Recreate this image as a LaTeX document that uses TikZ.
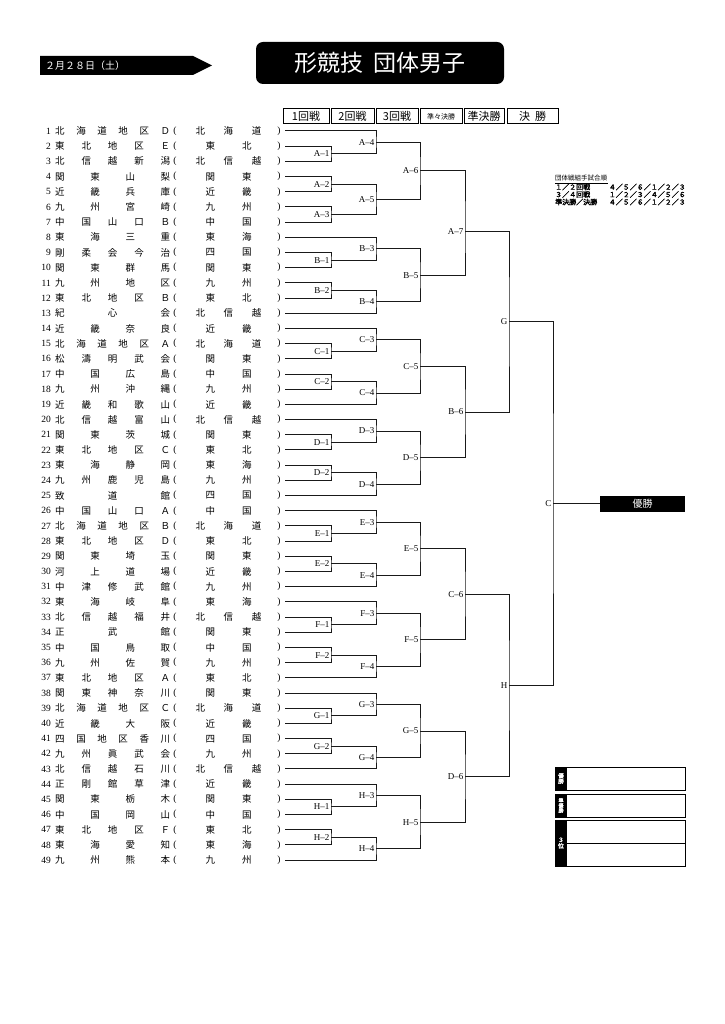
\documentclass[tikz,border=0pt]{standalone}
\usepackage{fontspec}
\setmainfont{Liberation Serif}
\newfontfamily\jp[AutoFakeBold=2]{Noto Sans CJK JP}
\newcommand\fs[1]{\fontsize{#1pt}{#1pt}\selectfont}
% one bout: name, label, x of join, row of join, upper and lower entry
\newcommand\bout[6]{%
  \node[mlab, anchor=east] (#1) at (#3,{#4}) {#2};
  \draw[bline] (#5) -| (#1.east) |- (#6);
}

\begin{document}
\begin{tikzpicture}[x=1pt, y=-1pt,
  bline/.style={line width=1pt, black!90},
  mlab/.style={font=\fs{9}, inner xsep=1.5pt, inner ysep=0pt},
  rowtxt/.style={font=\jp\fs{9.5}, inner sep=0pt},
  numtxt/.style={font=\fs{9.5}, inner sep=0pt},
  hdbox/.style={draw, line width=1pt, minimum height=15pt, inner sep=0pt, font=\jp\fs{11}}]
\useasboundingbox (0,0) rectangle (724,1024);
% Date and title
\fill[black] (40,56) -- (193,56) -- (212,65.5) -- (193,75) -- (40,75) -- cycle;
\node[anchor=west, text=white, font=\jp\fs{10}, inner sep=0pt] (date) at (45,65.5) {２月２８日（土）};
\node[fill=black, rounded corners=7pt, minimum width=248pt, minimum height=42pt,
  text=white, font=\jp\fs{23}] (title) at (380,63) {形競技\hspace{10pt}団体男子};
% Round headers
\node[hdbox, minimum width=46pt] (r1) at (306,116.5) {1回戦};
\node[hdbox, minimum width=43pt] (r2) at (352.5,116.5) {2回戦};
\node[hdbox, minimum width=42pt] (r3) at (397,116.5) {3回戦};
\node[hdbox, minimum width=42pt, font=\jp\fs{7}] (r4) at (441,116.5) {準々決勝};
\node[hdbox, minimum width=40pt] (r5) at (484,116.5) {準決勝};
\node[hdbox, minimum width=51pt] (r6) at (532.5,116.5) {決\hspace{5pt}勝};
% Bout order
\node[anchor=west, font=\jp\fs{6.5}, inner sep=0pt] (ordT) at (555,178.5) {団体戦組手試合順};
\draw[line width=0.5pt] (555,183.5) -- (608,183.5);
\node[anchor=west, font=\jp\bfseries\fs{7}, inner sep=0pt] (ord1) at (555,187) {１／２回戦};
\node[anchor=east, font=\jp\bfseries\fs{7}, inner sep=0pt] (seq1) at (686,187) {４／５／６／１／２／３};
\node[anchor=west, font=\jp\bfseries\fs{7}, inner sep=0pt] (ord2) at (555,194.5) {３／４回戦};
\node[anchor=east, font=\jp\bfseries\fs{7}, inner sep=0pt] (seq2) at (686,194.5) {１／２／３／４／５／６};
\node[anchor=west, font=\jp\bfseries\fs{7}, inner sep=0pt] (ord3) at (555,202) {準決勝／決勝};
\node[anchor=east, font=\jp\bfseries\fs{7}, inner sep=0pt] (seq3) at (686,202) {４／５／６／１／２／３};
% Result boxes
\draw[line width=1pt] (555,767) rectangle (685,790);
\fill (555,767) rectangle (567,790);
\node[text=white, font=\jp\bfseries\fs{5.5}, align=center, inner sep=0pt] (lb1) at (561,778.5) {優\\勝};
\draw[line width=1pt] (555,794) rectangle (685,817);
\fill (555,794) rectangle (567,817);
\node[text=white, font=\jp\bfseries\fs{5}, align=center, inner sep=0pt] (lb2) at (561,805.5) {準\\優\\勝};
\draw[line width=1pt] (555,820) rectangle (685,866);
\draw[line width=1pt] (567,843) -- (685,843);
\fill (555,820) rectangle (567,866);
\node[text=white, font=\jp\bfseries\fs{6}, align=center, inner sep=0pt] (lb3) at (561,843) {３\\位};
\begin{scope}[yshift=-115.81pt, y=-15.19pt]
% Teams
\foreach \rn/\nm/\af/\aw in {
  1/北 海 道 地 区 Ｄ/北 海 道/66, 2/東 北 地 区 Ｅ/東 北/46,
  3/北 信 越 新 潟/北 信 越/66, 4/関 東 山 梨/関 東/46,
  5/近 畿 兵 庫/近 畿/46, 6/九 州 宮 崎/九 州/46,
  7/中 国 山 口 Ｂ/中 国/46, 8/東 海 三 重/東 海/46,
  9/剛 柔 会 今 治/四 国/46, 10/関 東 群 馬/関 東/46,
  11/九 州 地 区/九 州/46, 12/東 北 地 区 Ｂ/東 北/46,
  13/紀 心 会/北 信 越/66, 14/近 畿 奈 良/近 畿/46,
  15/北 海 道 地 区 Ａ/北 海 道/66, 16/松 濤 明 武 会/関 東/46,
  17/中 国 広 島/中 国/46, 18/九 州 沖 縄/九 州/46,
  19/近 畿 和 歌 山/近 畿/46, 20/北 信 越 富 山/北 信 越/66,
  21/関 東 茨 城/関 東/46, 22/東 北 地 区 Ｃ/東 北/46,
  23/東 海 静 岡/東 海/46, 24/九 州 鹿 児 島/九 州/46,
  25/致 道 館/四 国/46, 26/中 国 山 口 Ａ/中 国/46,
  27/北 海 道 地 区 Ｂ/北 海 道/66, 28/東 北 地 区 Ｄ/東 北/46,
  29/関 東 埼 玉/関 東/46, 30/河 上 道 場/近 畿/46,
  31/中 津 修 武 館/九 州/46, 32/東 海 岐 阜/東 海/46,
  33/北 信 越 福 井/北 信 越/66, 34/正 武 館/関 東/46,
  35/中 国 鳥 取/中 国/46, 36/九 州 佐 賀/九 州/46,
  37/東 北 地 区 Ａ/東 北/46, 38/関 東 神 奈 川/関 東/46,
  39/北 海 道 地 区 Ｃ/北 海 道/66, 40/近 畿 大 阪/近 畿/46,
  41/四 国 地 区 香 川/四 国/46, 42/九 州 眞 武 会/九 州/46,
  43/北 信 越 石 川/北 信 越/66, 44/正 剛 館 草 津/近 畿/46,
  45/関 東 栃 木/関 東/46, 46/中 国 岡 山/中 国/46,
  47/東 北 地 区 Ｆ/東 北/46, 48/東 海 愛 知/東 海/46,
  49/九 州 熊 本/九 州/46}{
  \node[numtxt, anchor=east] (no\rn) at (51,\rn) {\rn};
  \node[rowtxt, anchor=west] (nm\rn) at (55,\rn) {\makebox[115pt][s]{\nm}};
  \node[numtxt] (lp\rn) at (175,\rn) {(};
  \node[rowtxt] (af\rn) at (228.5,\rn) {\makebox[\aw pt][s]{\af}};
  \node[numtxt] (rp\rn) at (279,\rn) {)};
  \coordinate (t\rn) at (285,\rn);
}
% Block A
\bout{A1}{A--1}{331}{2.5}{t2}{t3}
\bout{A2}{A--2}{331}{4.5}{t4}{t5}
\bout{A3}{A--3}{331}{6.5}{t6}{t7}
\bout{A4}{A--4}{376}{1.75}{t1}{A1.east}
\bout{A5}{A--5}{376}{5.5}{A2.east}{A3.east}
\bout{A6}{A--6}{420}{3.625}{A4.east}{A5.east}
% Blocks of six
\foreach \g/\s in {B/8,C/14,D/20,E/26,F/32,G/38,H/44}{
  \pgfmathtruncatemacro\ra{\s+1}
  \pgfmathtruncatemacro\rb{\s+2}
  \pgfmathtruncatemacro\rc{\s+3}
  \pgfmathtruncatemacro\rd{\s+4}
  \pgfmathtruncatemacro\re{\s+5}
  \bout{\g1}{\g--1}{331}{\s+1.5}{t\ra}{t\rb}
  \bout{\g2}{\g--2}{331}{\s+3.5}{t\rc}{t\rd}
  \bout{\g3}{\g--3}{376}{\s+0.75}{t\s}{\g1.east}
  \bout{\g4}{\g--4}{376}{\s+4.25}{\g2.east}{t\re}
  \bout{\g5}{\g--5}{420}{\s+2.5}{\g3.east}{\g4.east}
}
% Quarter finals and up
\bout{A7}{A--7}{465}{7.6}{A6.east}{B5.east}
\bout{B6}{B--6}{465}{19.5}{C5.east}{D5.east}
\bout{C6}{C--6}{465}{31.5}{E5.east}{F5.east}
\bout{D6}{D--6}{465}{43.5}{G5.east}{H5.east}
\bout{sG}{G}{509}{13.55}{A7.east}{B6.east}
\bout{sH}{H}{509}{37.5}{C6.east}{D6.east}
\bout{fC}{C}{553}{25.525}{sG.east}{sH.east}
\node[fill=black, text=white, font=\jp\fs{10}, anchor=west, minimum width=85pt,
  minimum height=16pt, inner sep=0pt] (win) at (600,25.525) {優勝};
\draw[bline] (fC.east) -- (win.west);
\end{scope}
\end{tikzpicture}
\end{document}
